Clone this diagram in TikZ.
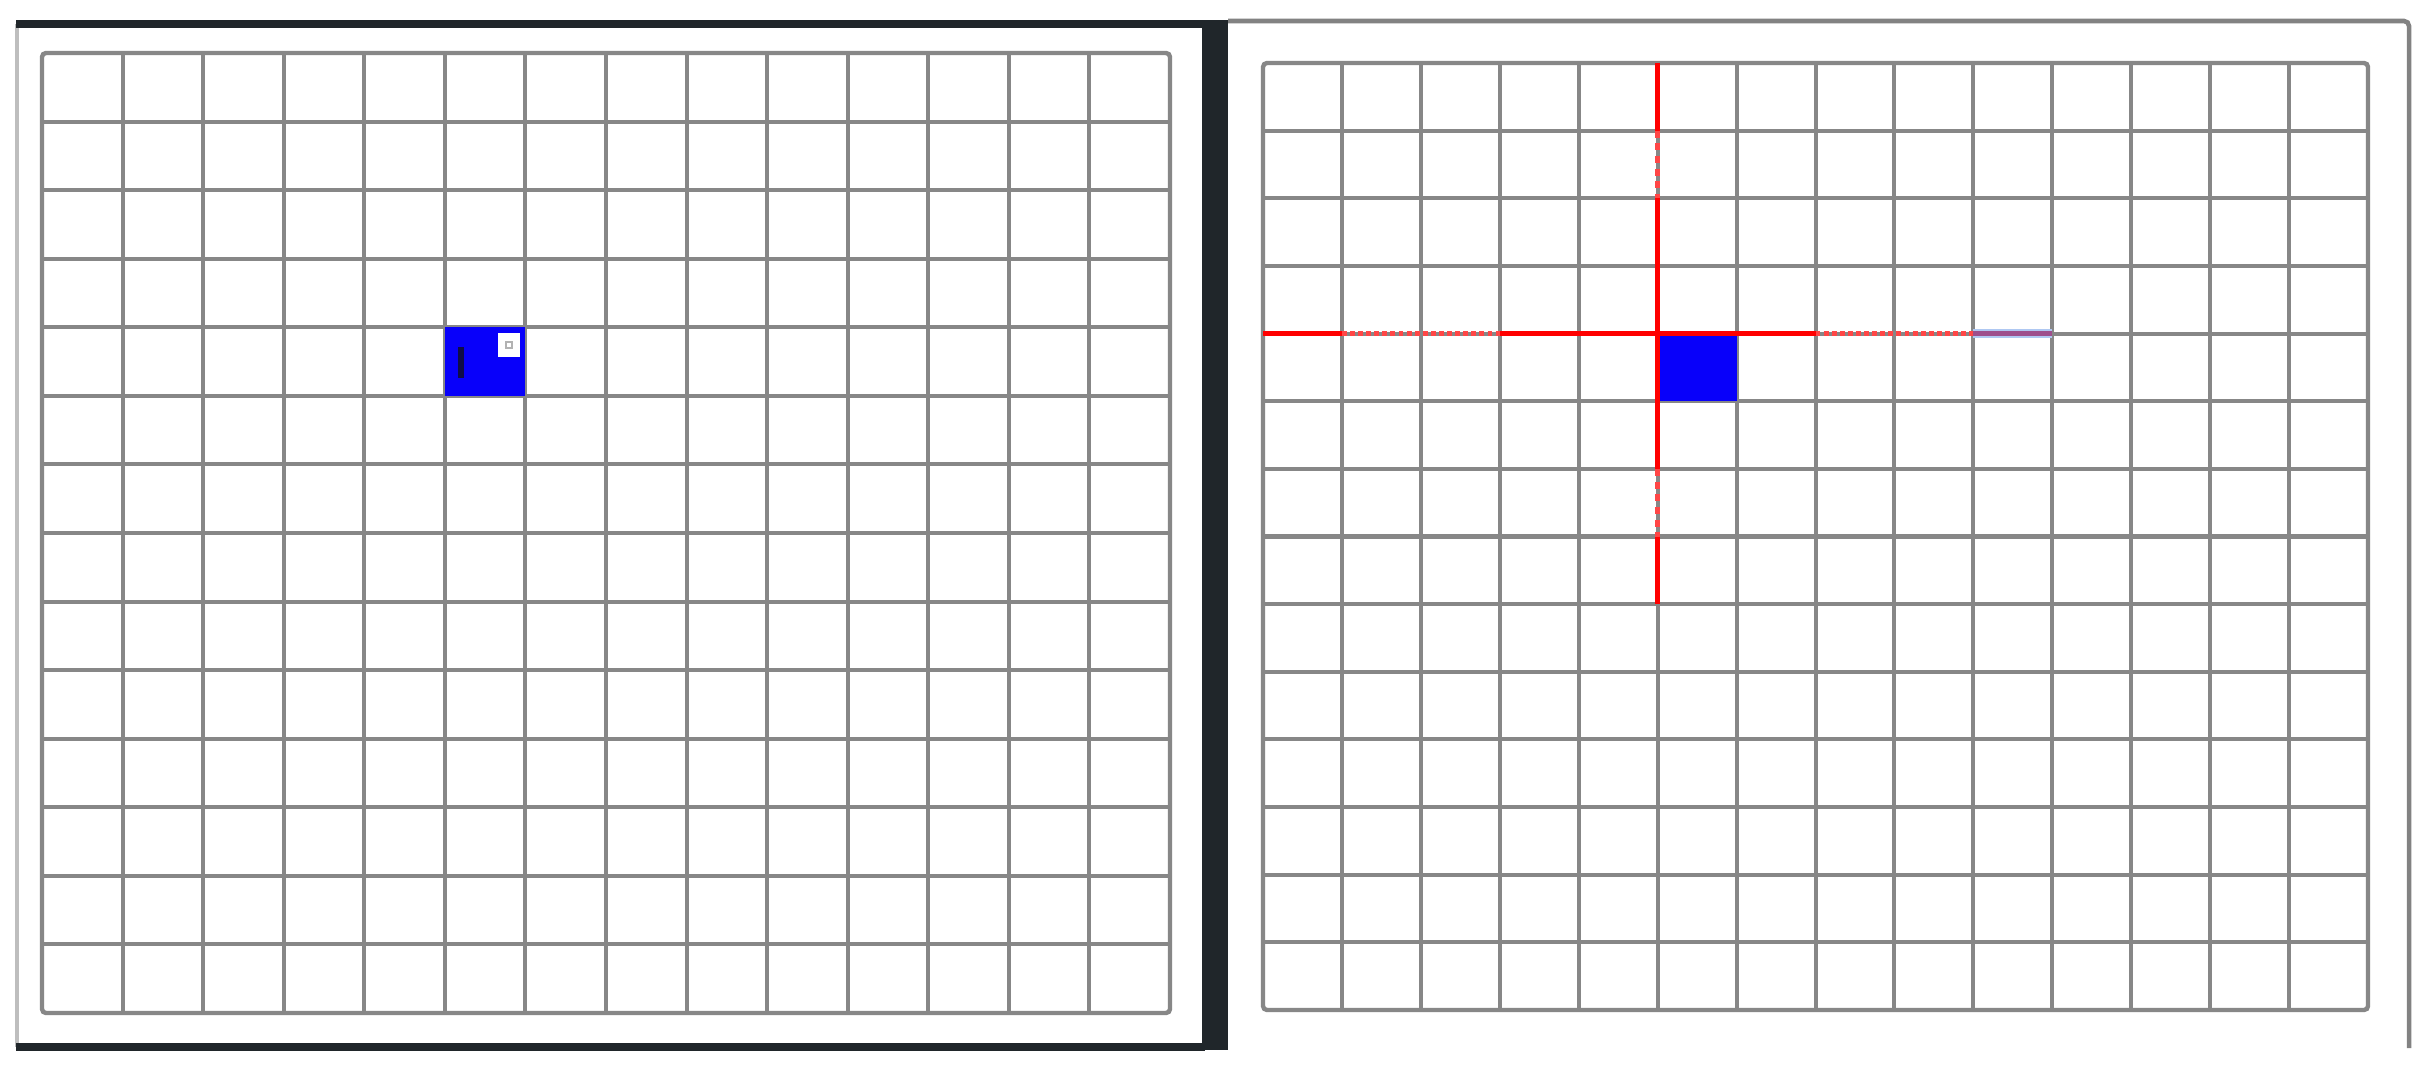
\documentclass[tikz,border=0pt]{standalone}
\definecolor{gridgray}{RGB}{135,135,135}
\definecolor{framedark}{RGB}{32,38,42}
\definecolor{framegray}{RGB}{130,130,130}
\definecolor{leftgray}{RGB}{190,190,190}
\definecolor{cellblue}{RGB}{8,0,250}
\definecolor{marknavy}{RGB}{15,12,70}
\definecolor{haloblue}{RGB}{175,200,242}
\definecolor{mauve}{RGB}{158,78,140}
\definecolor{dotred}{RGB}{255,70,70}
\tikzset{
  gridline/.style={draw=gridgray, line width=1.15pt},
  gridborder/.style={draw=gridgray, line width=1.25pt, rounded corners=0.04cm},
  thickframe/.style={draw=framedark, line width=2pt},
  redsolid/.style={draw=red, line width=1.5pt},
  reddoth/.style={draw=dotred, line width=1.3pt, dash pattern=on 1.4pt off 0.9pt},
  reddotv/.style={draw=dotred, line width=1.3pt, dash pattern=on 2pt off 1.6pt},
  cellfill/.style={fill=cellblue, draw=none},
}
\begin{document}
\begin{tikzpicture}[x=0.01cm,y=-0.01cm]
\useasboundingbox (0,0) rectangle (2428,1070);
\fill[white] (0,0) rectangle (2428,1070);

% ---------- left panel frame ----------
\draw[draw=leftgray, line width=0.9pt] (17,24) -- (17,1047);
\draw[thickframe] (16,24) -- (1205,24);
\draw[thickframe] (16,1047) -- (1205,1047);
\fill[framedark] (1202,20) rectangle (1228,1050);

% ---------- right panel frame ----------
\draw[draw=framegray, line width=1.3pt, rounded corners=0.05cm] (1228,21) -- (2409,21) -- (2409,1048);

% ---------- left grid ----------
\foreach \i in {1,...,13} {
  \draw[gridline] ({42+\i*1128/14},53) -- ({42+\i*1128/14},1013);
  \draw[gridline] (42,{53+\i*960/14}) -- (1170,{53+\i*960/14});
}
\draw[gridborder] (42,53) rectangle (1170,1013);

% ---------- right grid ----------
\foreach \i in {1,...,13} {
  \draw[gridline] ({1263+\i*1105/14},63) -- ({1263+\i*1105/14},1010);
  \draw[gridline] (1263,{63+\i*947/14}) -- (2368,{63+\i*947/14});
}
\draw[gridborder] (1263,63) rectangle (2368,1010);

% ---------- left marked cell (col 5, row 4) ----------
\coordinate (LA) at ({42+5*1128/14},{53+4*960/14});
\coordinate (LB) at ({42+6*1128/14},{53+5*960/14});
\fill[cellblue] (LA) rectangle (LB);
\fill[marknavy] (458,347) rectangle (464,378);
\fill[white] (498,333) rectangle (520,357);
\draw[draw=gray!60, line width=0.3pt] (506,342) rectangle (512,348);

% ---------- right marked cell (col 5, row 4) ----------
\coordinate (RA) at ({1263+5*1105/14},{63+4*947/14});
\coordinate (RB) at ({1263+6*1105/14},{63+5*947/14});
\fill[cellblue] (RA) rectangle (RB);

% ---------- red horizontal line on row line 4 ----------
\foreach \c in {0,...,10} {
  \coordinate (H\c) at ({1263+\c*1105/14},{63+4*947/14});
}
\draw[redsolid] (H0) -- (H1);
\draw[reddoth] (H1) -- (H3);
\draw[redsolid] (H3) -- (H7);
\draw[reddoth] (H7) -- (H9);
\draw[draw=haloblue, line width=2.5pt] (H9) -- (H10);
\draw[draw=mauve, line width=1.3pt] (H9) -- (H10);

% ---------- red vertical line on column line 5 ----------
\foreach \r in {0,...,8} {
  \coordinate (V\r) at ({1263+5*1105/14},{63+\r*947/14});
}
\draw[redsolid] (V0) -- (V1);
\draw[reddotv] (V1) -- (V2);
\draw[redsolid] (V2) -- (V6);
\draw[reddotv] (V6) -- (V7);
\draw[redsolid] (V7) -- (V8);
\end{tikzpicture}
\end{document}
